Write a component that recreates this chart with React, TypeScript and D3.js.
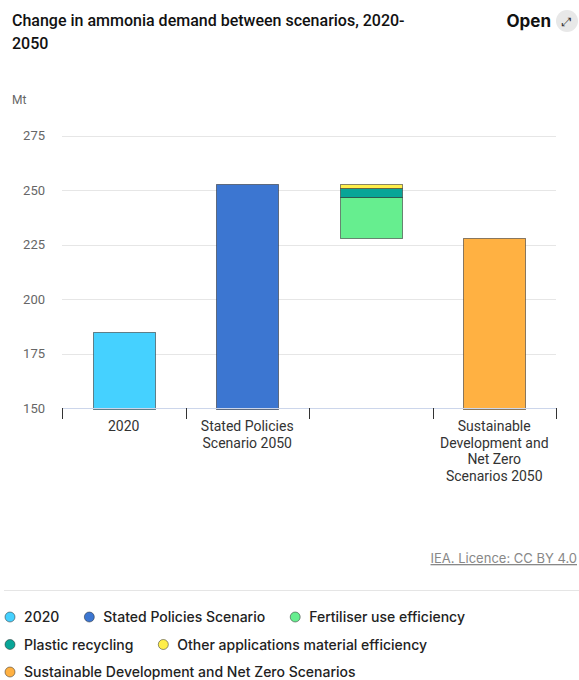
import React, { useEffect, useRef } from "react";
import * as d3 from "d3";

const categories = ["2020", "Stated Policies Scenario 2050", "", "Sustainable Development and Net Zero Scenarios 2050"];
const categoryLines = [["2020"], ["Stated Policies", "Scenario 2050"], [""], ["Sustainable", "Development and", "Net Zero", "Scenarios 2050"]];
const seriesNames = ["2020", "Stated Policies Scenario", "Fertiliser use efficiency", "Plastic recycling", "Other applications material efficiency", "Sustainable Development and Net Zero Scenarios"];
const seriesColors = ["#45d1ff", "#3c76d1", "#66ee8f", "#08a597", "#ffee4a", "#ffb142"];
// Totals for full bars
const value2020 = 185;
const valueSPS = 253;
const valueSDS = 228;
// Waterfall reductions (Mt), from SDS level upward
const reductions = [19, 4, 2]; // fertiliser, plastic, other
const yTicks = [150, 175, 200, 225, 250, 275];

export default function App() {
  const ref = useRef<SVGSVGElement>(null);
  useEffect(() => {
    const svg = d3.select(ref.current);
    svg.selectAll("*").remove();
    const font = "Roboto, 'Noto Sans', sans-serif";
    const lfont = "Inter, 'Noto Sans', sans-serif";
    const x = d3.scaleBand().domain(categories.map((c, i) => String(i))).range([62, 556]).paddingInner(0).paddingOuter(0);
    const y = d3.scaleLinear().domain([150, 275]).range([408.5, 135.5]);

    // Title
    const title = svg.append("text").attr("x", 12).attr("y", 26).attr("font-family", font).attr("font-size", 16).attr("font-weight", 500).attr("fill", "#111");
    title.append("tspan").attr("x", 12).attr("dy", 0).text("Change in ammonia demand between scenarios, 2020-");
    title.append("tspan").attr("x", 12).attr("dy", 23).text("2050");
    svg.append("text").attr("x", 551).attr("y", 27).attr("text-anchor", "end").attr("font-family", lfont).attr("font-size", 17).attr("font-weight", 700).attr("fill", "#111").text("Open");
    svg.append("circle").attr("cx", 567).attr("cy", 21).attr("r", 11).attr("fill", "#e8e8e8");
    svg.append("text").attr("x", 567).attr("y", 25.5).attr("text-anchor", "middle").attr("font-family", "DejaVu Sans").attr("font-size", 12).attr("fill", "#333").text("⤢");

    // Unit
    svg.append("text").attr("x", 12).attr("y", 104).attr("font-family", font).attr("font-size", 12).attr("fill", "#666").text("Mt");

    // Grid
    svg.append("g").selectAll("line").data(yTicks.slice(1)).join("line")
      .attr("x1", 62).attr("x2", 556).attr("y1", d => Math.round(y(d)) + 0.5).attr("y2", d => Math.round(y(d)) + 0.5)
      .attr("stroke", "#e6e6e6").attr("stroke-width", 1);
    svg.append("g").selectAll("text").data(yTicks).join("text")
      .attr("x", 45).attr("y", d => y(d) + 4.5).attr("text-anchor", "end")
      .attr("font-family", font).attr("font-size", 13).attr("fill", "#666").text(d => String(d));

    const bw = x.bandwidth() * 0.5;
    const bx = (i: number) => (x(String(i)) as number) + (x.bandwidth() - bw) / 2;
    const rects: { i: number; y0: number; y1: number; c: string }[] = [
      { i: 0, y0: 150, y1: value2020, c: seriesColors[0] },
      { i: 1, y0: 150, y1: valueSPS, c: seriesColors[1] },
    ];
    let base = valueSDS;
    reductions.forEach((r, k) => {
      rects.push({ i: 2, y0: base, y1: base + r, c: seriesColors[2 + k] });
      base += r;
    });
    rects.push({ i: 3, y0: 150, y1: valueSDS, c: seriesColors[5] });
    svg.append("g").selectAll("rect").data(rects).join("rect")
      .attr("x", d => Math.round(bx(d.i)) + 0.5).attr("width", Math.round(bw))
      .attr("y", d => Math.round(y(d.y1)) + 0.5).attr("height", d => Math.round(y(d.y0)) - Math.round(y(d.y1)))
      .attr("fill", d => d.c).attr("stroke", "rgba(40,40,40,0.55)").attr("stroke-width", 1);

    // x axis
    svg.append("line").attr("x1", 62).attr("x2", 556).attr("y1", 408.5).attr("y2", 408.5).attr("stroke", "#ccd6eb");
    const tickPos = categories.map((c, i) => x(String(i)) as number).concat([556]);
    svg.append("g").selectAll("line").data(tickPos).join("line")
      .attr("x1", d => Math.round(d) + 0.5).attr("x2", d => Math.round(d) + 0.5).attr("y1", 408).attr("y2", 419)
      .attr("stroke", "#333");
    categoryLines.forEach((lines, i) => {
      const cx = (x(String(i)) as number) + x.bandwidth() / 2;
      const t = svg.append("text").attr("font-family", font).attr("font-size", 14).attr("fill", "#333").attr("text-anchor", "middle");
      lines.forEach((l, k) => t.append("tspan").attr("x", cx).attr("y", 431 + k * 16.5).text(l));
    });

    // credit
    svg.append("text").attr("x", 577).attr("y", 563).attr("text-anchor", "end").attr("font-family", lfont).attr("font-size", 13)
      .attr("fill", "#888").attr("text-decoration", "underline").text("IEA. Licence: CC BY 4.0");
    svg.append("line").attr("x1", 4).attr("x2", 579).attr("y1", 590.5).attr("y2", 590.5).attr("stroke", "#e5e5e5");

    // legend
    const rows = [[0, 1, 2], [3, 4], [5]];
    rows.forEach((row, r) => {
      let cx = 10;
      const cy = 617 + r * 27.5;
      row.forEach(si => {
        svg.append("circle").attr("cx", cx).attr("cy", cy).attr("r", 5).attr("fill", seriesColors[si]).attr("stroke", "rgba(40,40,40,0.5)").attr("stroke-width", 1);
        const t = svg.append("text").attr("x", cx + 14).attr("y", cy + 5).attr("font-family", lfont).attr("font-size", 14).attr("font-weight", 500).attr("fill", "#222").text(seriesNames[si]);
        const w = (t.node() as SVGTextElement).getComputedTextLength();
        cx = cx + 14 + w + 30;
      });
    });
  }, []);
  return <svg ref={ref} width={579} height={680} style={{ position: "absolute", left: 0, top: 0 }} />;
}
